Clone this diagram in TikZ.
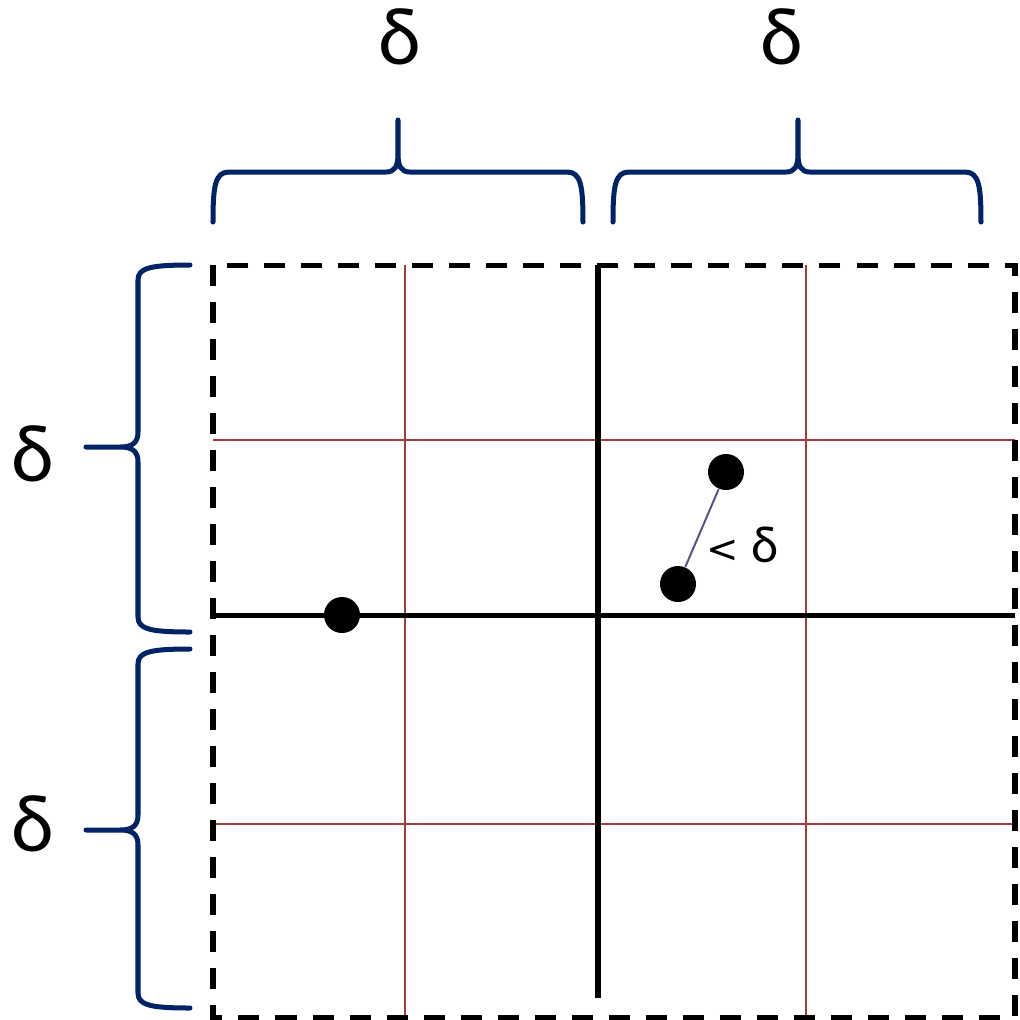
\documentclass[tikz,border=0pt]{standalone}
\usepackage{fontspec}
\setmainfont{Lato}
\newfontfamily\dvfont{DejaVu Sans}
\definecolor{navy}{RGB}{0,34,102}
\definecolor{gridred}{RGB}{160,60,58}
\definecolor{seg}{RGB}{95,80,130}
\begin{document}
\begin{tikzpicture}[x=0.01cm,y=-0.01cm,
  brace/.style={draw=navy,line width=0.05cm,line join=round,line cap=round},
  redline/.style={draw=gridred,line width=0.02cm},
  axisline/.style={draw=black,line width=0.05cm},
  dashbox/.style={draw=black,line width=0.05cm,dash pattern=on 0.21cm off 0.16cm},
  dot/.style={circle,fill=black,inner sep=0pt,minimum size=0.36cm},
  biglabel/.style={inner sep=0pt,font=\fontsize{22}{26}\selectfont},
  smalllabel/.style={inner sep=0pt,font=\fontsize{14}{16}\selectfont}]
\useasboundingbox (0,0) rectangle (1020,1020);
% red grid lines
\draw[redline] (405,265) -- (405,1017);
\draw[redline] (806,265) -- (806,1017);
\draw[redline] (213,440) -- (1015,440);
\draw[redline] (213,824) -- (1015,824);
% black axes
\draw[axisline] (598,265) -- (598,998);
\draw[axisline] (213,615) -- (1015,615);
% dashed square
\draw[dashbox] (213,265) rectangle (1015,1017);
% top braces
\draw[brace] (213,222) .. controls (213,186) and (215,172) .. (229,172) -- (386,172) .. controls (395,172) and (398,166) .. (398,154) -- (398,120) -- (398,154) .. controls (398,166) and (401,172) .. (410,172) -- (567,172) .. controls (581,172) and (583,186) .. (583,222);
\draw[brace] (613,222) .. controls (613,186) and (615,172) .. (629,172) -- (786,172) .. controls (795,172) and (798,166) .. (798,154) -- (798,120) -- (798,154) .. controls (798,166) and (801,172) .. (810,172) -- (965,172) .. controls (979,172) and (981,186) .. (981,222);
% left braces
\draw[brace] (190,265) .. controls (150,265) and (138,268) .. (138,280) -- (138,432) .. controls (138,443) and (132,447) .. (120,447) -- (86,447) -- (120,447) .. controls (132,447) and (138,451) .. (138,462) -- (138,617) .. controls (138,629) and (150,632) .. (190,632);
\draw[brace] (190,649) .. controls (150,649) and (138,652) .. (138,664) -- (138,815) .. controls (138,826) and (132,830) .. (120,830) -- (86,830) -- (120,830) .. controls (132,830) and (138,834) .. (138,845) -- (138,993) .. controls (138,1005) and (150,1008) .. (190,1008);
% labels
\node[biglabel] (dtop1) at (400,37) {δ};
\node[biglabel] (dtop2) at (782,37) {δ};
\node[biglabel] (dleft1) at (33,454) {δ};
\node[biglabel] (dleft2) at (33,824) {δ};
% points
\node[dot] (p1) at (342,615) {};
\node[dot] (p2) at (726,472) {};
\node[dot] (p3) at (678,584) {};
\draw[seg,line width=0.02cm] (p2) -- (p3);
\node[smalllabel] (lt) at (743,545) {{\dvfont\fontsize{11}{14}\selectfont <}~δ};
\end{tikzpicture}
\end{document}
